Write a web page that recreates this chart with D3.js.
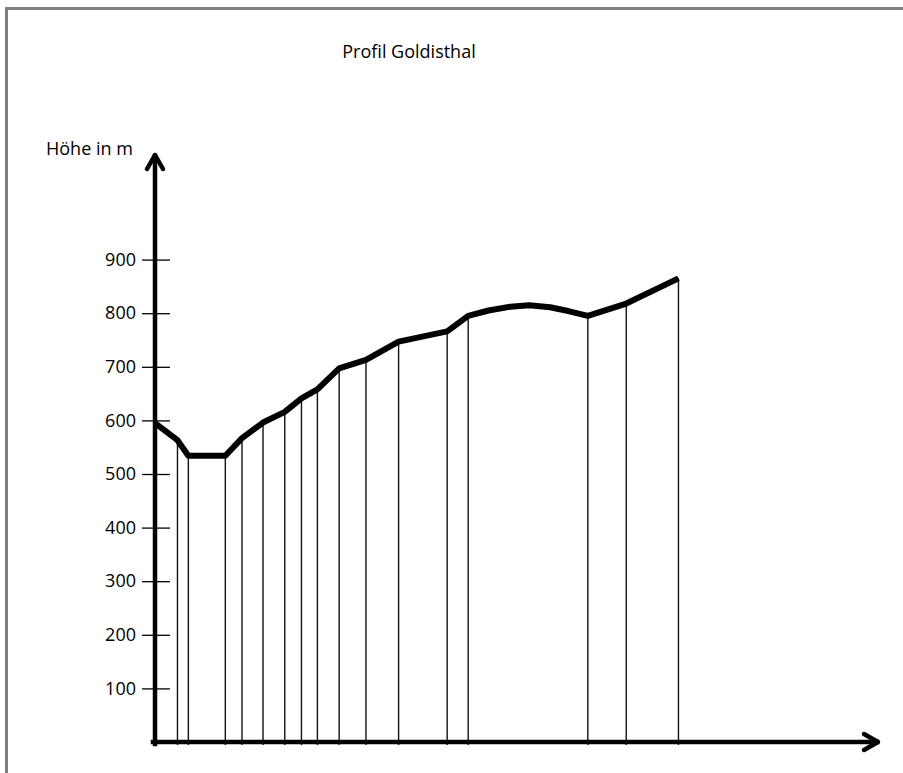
<!DOCTYPE html>
<html>
<head>
<meta charset="utf-8">
<script src="https://cdn.jsdelivr.net/npm/d3@7"></script>
<style>
  html, body { margin: 0; padding: 0; background: #fff; }
  svg { display: block; }
  text { font-family: "Open Sans", sans-serif; fill: #000; }
</style>
</head>
<body>
<div id="chart"></div>
<script>
// horizontal distance (arbitrary units along the profile) and height in m
const profileDist   = [0, 3.1, 4.6, 9.7, 12.0, 14.9, 17.9, 20.2, 22.4, 25.4, 29.1, 33.6, 40.3, 43.2, 46.0, 49.0, 51.6, 54.5, 57.0, 59.7, 65.0, 72.2];
const profileHeight = [595, 563, 534, 534, 567, 596, 616, 641, 658, 697, 713, 747, 766, 795, 805, 812, 815, 811, 804, 795, 818, 865];
// which profile points have a drop line to the base
const dropLine      = [0, 1, 1, 1, 1, 1, 1, 1, 1, 1, 1, 1, 1, 1, 0, 0, 0, 0, 0, 1, 1, 1];
const yTicks = [100, 200, 300, 400, 500, 600, 700, 800, 900];
const titleText = "Profil Goldisthal";
const yLabel = "Höhe in m";

const width = 903, height = 773;

const svg = d3.select("#chart")
    .append("svg")
    .attr("width", width)
    .attr("height", height);

// page frame (top and left edges only)
svg.append("line")
    .attr("x1", 5).attr("y1", 8.5).attr("x2", width).attr("y2", 8.5)
    .style("stroke", "#808080").style("stroke-width", 3);
svg.append("line")
    .attr("x1", 6.5).attr("y1", 7).attr("x2", 6.5).attr("y2", height)
    .style("stroke", "#808080").style("stroke-width", 3);

const x = d3.scaleLinear().domain([0, 100]).range([155, 880]);
const y = d3.scaleLinear().domain([0, 1000]).range([742, 206]);

const points = profileDist.map((d, i) => ({ d: d, h: profileHeight[i], drop: dropLine[i] }));

// drop lines
svg.append("g")
    .selectAll("line")
    .data(points.filter(p => p.drop))
    .join("line")
    .attr("x1", p => x(p.d)).attr("x2", p => x(p.d))
    .attr("y1", p => y(p.h)).attr("y2", y(0) + 3)
    .style("stroke", "#111")
    .style("stroke-width", 1.4);

// y axis ticks and labels
const yAxis = svg.append("g")
    .attr("transform", `translate(${x(0)},0)`)
    .call(d3.axisLeft(y).tickValues(yTicks).tickSize(13).tickPadding(6));
yAxis.select(".domain").remove();
yAxis.selectAll(".tick line")
    .attr("x1", 15)
    .style("stroke", "#000")
    .style("stroke-width", 1.3);
yAxis.selectAll(".tick text")
    .style("font-family", "'Open Sans', sans-serif")
    .style("font-size", "18px")
    .style("fill", "#000");

// axes with arrow heads
const axisStyle = sel => sel.style("stroke", "#000").style("stroke-width", 4.5)
    .style("fill", "none").style("stroke-linecap", "round").style("stroke-linejoin", "round");

svg.append("line")
    .attr("x1", x(0)).attr("y1", y(0) + 2).attr("x2", x(0)).attr("y2", 156)
    .call(axisStyle).style("stroke-linecap", "square");
svg.append("path")
    .attr("d", `M${x(0) - 8},${169} L${x(0)},${155} L${x(0) + 8},${169}`)
    .call(axisStyle);

svg.append("line")
    .attr("x1", x(0) - 2).attr("y1", y(0)).attr("x2", 877).attr("y2", y(0))
    .call(axisStyle).style("stroke-linecap", "square");
svg.append("path")
    .attr("d", `M${864},${y(0) - 8} L${878},${y(0)} L${864},${y(0) + 8}`)
    .call(axisStyle);

// profile line
const line = d3.line()
    .x(p => x(p.d))
    .y(p => y(p.h))
    .curve(d3.curveLinear);

svg.append("path")
    .datum(points)
    .attr("d", line)
    .style("fill", "none")
    .style("stroke", "#000")
    .style("stroke-width", 6)
    .style("stroke-linejoin", "round");

// texts
svg.append("text")
    .attr("x", 409).attr("y", 58)
    .attr("text-anchor", "middle")
    .style("font-size", "18px")
    .text(titleText);

svg.append("text")
    .attr("x", 46).attr("y", 155)
    .style("font-size", "18px")
    .text(yLabel);
</script>
</body>
</html>
